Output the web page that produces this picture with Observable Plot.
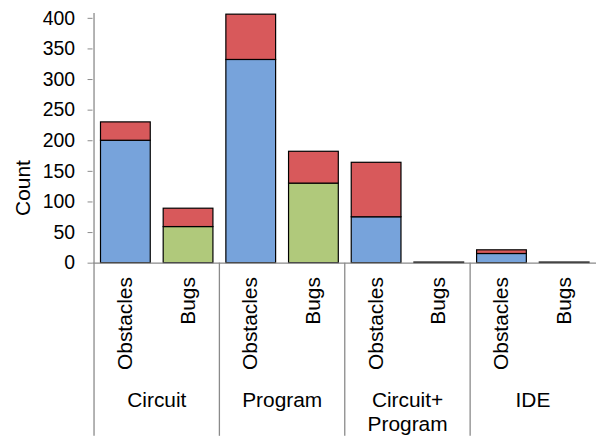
<!DOCTYPE html>
<html><head><meta charset="utf-8">
<script src="https://cdn.jsdelivr.net/npm/d3@7"></script>
<script src="https://cdn.jsdelivr.net/npm/@observablehq/plot@0.6"></script>
<style>html,body{margin:0;padding:0;overflow:hidden;background:#fff}</style>
</head><body><div id="chart"></div>
<script>
const groups = ["Circuit", "Program", "Circuit+Program", "IDE"];
const groupLabels = ["Circuit", "Program", "Circuit+\nProgram", "IDE"];
const types = ["Obstacles", "Bugs"];
// lower segment (blue for Obstacles, green for Bugs), in order group x type
const baseValues = [200, 59, 332, 130, 75, 0, 15, 0];
// upper (red) segment
const topValues = [30, 30, 74, 52, 89, 1, 6, 1];
const yTicks = [0, 50, 100, 150, 200, 250, 300, 350, 400];
const yLabel = "Count";
const colors = {Obstacles: "#77A3DB", Bugs: "#B0C97B", top: "#D8595B"};

const rows = [];
groups.forEach((g, gi) => types.forEach((t, ti) => {
  const i = gi * 2 + ti;
  const key = g + "|" + t;
  rows.push({key, group: g, type: t, part: "base", value: baseValues[i], color: colors[t]});
  rows.push({key, group: g, type: t, part: "top", value: topValues[i], color: colors.top});
}));
const keys = groups.flatMap(g => types.map(t => g + "|" + t));

const W = 599, H = 438, mL = 93, mR = 0, mT = 13, mB = 174;
const band = (W - mL - mR) / keys.length;
const font = "'Liberation Sans', Arial, sans-serif";

const separators = Plot.ruleX(groups, {
  x: g => g + "|Obstacles",
  render(index, scales, values, dims) {
    const g = d3.create("svg:g").attr("stroke", "#8a8a8a").attr("stroke-width", 1.3);
    for (const i of index) {
      const x = Math.round(scales.x(groups[i] + "|Obstacles")) + 0.5;
      g.append("line")
        .attr("x1", x).attr("x2", x)
        .attr("y1", i === 0 ? dims.marginTop : scales.y(0))
        .attr("y2", dims.height);
    }
    return g.node();
  }
});

const chart = Plot.plot({
  width: W, height: H,
  marginLeft: mL, marginRight: mR, marginTop: mT, marginBottom: mB,
  style: {fontFamily: font, background: "#fff", color: "#000", overflow: "visible"},
  x: {domain: keys, padding: 0, axis: null},
  y: {domain: [0, 408], axis: null},
  color: {type: "identity"},
  marks: [
    Plot.barY(rows, {x: "key", y: "value", fill: "color", stroke: "#000", strokeWidth: 1.2, insetLeft: 7, insetRight: 6}),
    Plot.ruleY([0], {stroke: "#8a8a8a", strokeWidth: 1.3}),
    separators,
    Plot.axisY({ticks: yTicks, tickSize: 5, tickPadding: 13, stroke: "#8a8a8a", fill: "#000", fontSize: 19.5, label: null}),
    Plot.axisX({tickSize: 0, tickRotate: -90, tickPadding: 14, tickFormat: k => k.split("|")[1], fontSize: 21, fill: "#000", label: null}),
    Plot.text(groups, {x: g => g + "|Obstacles", text: (g, i) => groupLabels[i], frameAnchor: "bottom", dx: band / 2, dy: 128, lineAnchor: "top", lineHeight: 1.14, fontSize: 21, fill: "#000"}),
    Plot.text([yLabel], {frameAnchor: "left", text: d => d, rotate: -90, textAnchor: "middle", lineAnchor: "middle", dx: -70, dy: 50, fontSize: 21, fill: "#000"})
  ]
});
document.getElementById("chart").appendChild(chart);
</script>
</body></html>
